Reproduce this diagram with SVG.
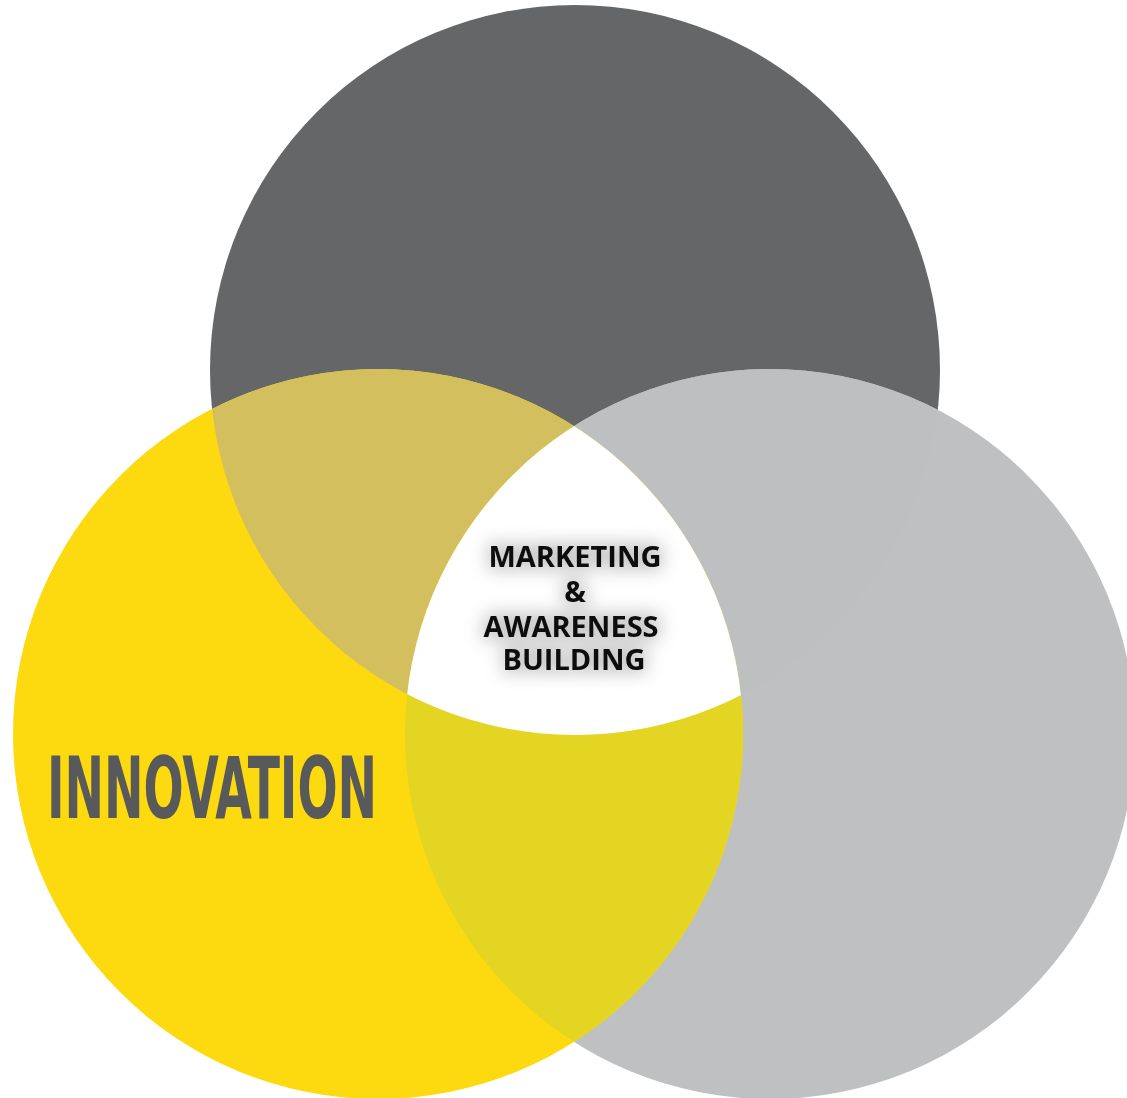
<svg xmlns="http://www.w3.org/2000/svg" width="1127" height="1098" viewBox="0 0 1127 1098">
<style>
.lbl{font-family:"Open Sans","DejaVu Sans",sans-serif;font-weight:700;font-size:29px;fill:#111;text-anchor:middle}
.big{font-family:"Liberation Sans Narrow","DejaVu Sans Condensed","Liberation Sans",sans-serif;font-weight:700;font-size:86px;fill:#58595B}
</style>
<defs>
<clipPath id="cTop"><circle cx="575" cy="370" r="365"/></clipPath>
<clipPath id="cYel"><circle cx="378" cy="734" r="365"/></clipPath>
<clipPath id="cGray"><circle cx="770" cy="734" r="365"/></clipPath>
<filter id="glow" x="-30%" y="-40%" width="160%" height="180%">
<feMorphology in="SourceAlpha" operator="dilate" radius="3" result="d"/>
<feGaussianBlur in="d" stdDeviation="9" result="b"/>
<feFlood flood-color="#000" flood-opacity="0.22"/>
<feComposite in2="b" operator="in" result="s"/>
<feMerge><feMergeNode in="s"/><feMergeNode in="SourceGraphic"/></feMerge>
</filter>
</defs>
<rect width="1127" height="1098" fill="#fff"/>
<g id="circle-top"><circle cx="575" cy="370" r="365" fill="#656668"/></g>
<g id="circle-gray"><circle cx="770" cy="734" r="365" fill="#BFC0C2"/></g>
<g id="circle-innovation"><circle cx="378" cy="734" r="365" fill="#FDDA0F"/></g>
<g id="overlaps">
<circle cx="770" cy="734" r="365" fill="#BEBFC1" clip-path="url(#cTop)"/>
<circle cx="378" cy="734" r="365" fill="#D4BF5F" clip-path="url(#cTop)"/>
<circle cx="378" cy="734" r="365" fill="#E4D523" clip-path="url(#cGray)"/>
<g clip-path="url(#cTop)"><circle cx="378" cy="734" r="365" fill="#FFFFFF" clip-path="url(#cGray)"/></g>
</g>
<g id="center-label" filter="url(#glow)">
<text class="lbl" x="575" y="567">MARKETING</text>
<text class="lbl" x="575" y="602">&amp;</text>
<text class="lbl" x="571" y="637">AWARENESS</text>
<text class="lbl" x="574" y="670">BUILDING</text>
</g>
<g id="innovation-label">
<text class="big" x="47" y="818" textLength="330" lengthAdjust="spacingAndGlyphs">INNOVATION</text>
</g>
</svg>
